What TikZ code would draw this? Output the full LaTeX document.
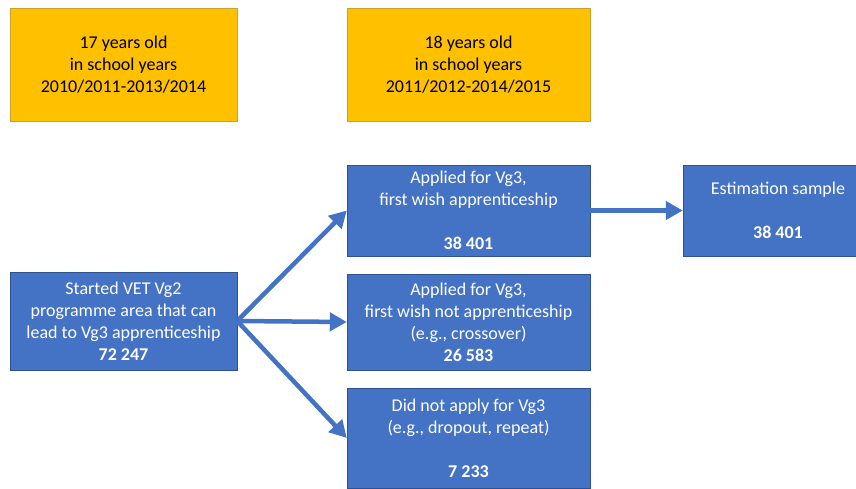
\documentclass[tikz,border=0pt]{standalone}
\usepackage{fontspec}
\setmainfont{Carlito}
\usetikzlibrary{arrows.meta}
\definecolor{boxblue}{HTML}{4472C4}
\definecolor{boxedge}{HTML}{2F528F}
\definecolor{ageorange}{HTML}{FFC000}
\definecolor{ageedge}{HTML}{C9A227}

\begin{document}
\begin{tikzpicture}[x=1pt,y=-1pt]
    % Setup the style for the boxes
        \tikzset{age style/.style={draw=ageedge,
                                   fill=ageorange,
                                   text=black,
                                   minimum height=113pt,
                                   inner sep=0pt,
                                   align=center,
                                   font=\fontsize{18}{22}\selectfont},
                 flow style/.style={draw=boxedge,
                                    fill=boxblue,
                                    text=white,
                                    inner sep=0pt,
                                    align=center,
                                    font=\fontsize{18}{22}\selectfont}}
        \useasboundingbox (0,0) rectangle (856,489);

        % Draw the age boxes
        \node[age style, minimum width=227pt] at (123.5, 64.5) (age17)
            {17 years old\\ in school years\\ 2010/2011-2013/2014};
        \node[age style, minimum width=243pt] at (468.5, 64.5) (age18)
            {18 years old\\ in school years\\ 2011/2012-2014/2015};

        % Draw the flow boxes
        \node[flow style, minimum width=227pt, minimum height=98pt] at (123.5, 321) (started)
            {Started VET Vg2\\ programme area that can\\ lead to Vg3 apprenticeship\\ \textbf{72 247}};
        \node[flow style, minimum width=243pt, minimum height=91pt] at (468.5, 210.5) (wish)
            {Applied for Vg3,\\ first wish apprenticeship\\[22pt] \textbf{38 401}};
        \node[flow style, minimum width=243pt, minimum height=96pt] at (468.5, 322) (notwish)
            {Applied for Vg3,\\ first wish not apprenticeship\\ (e.g., crossover)\\ \textbf{26 583}};
        \node[flow style, minimum width=243pt, minimum height=100pt] at (468.5, 438) (noapply)
            {Did not apply for Vg3\\ (e.g., dropout, repeat)\\[22pt] \textbf{7 233}};
        \node[flow style, minimum width=190pt, minimum height=91pt] at (778, 210.5) (estim)
            {Estimation sample\\[22pt] \textbf{38 401}};

        % Connect the boxes with arrows
        \draw[line width=4.5pt,
              >={Triangle[length=17pt, width=18pt]},
              draw=boxblue,
              fill=boxblue]
            (started.east) edge[->] (wish.west)
            (started.east) edge[->] (notwish.west)
            (started.east) edge[->] (noapply.west)
            (wish.east)    edge[->] (estim.west);
\end{tikzpicture}
\end{document}
